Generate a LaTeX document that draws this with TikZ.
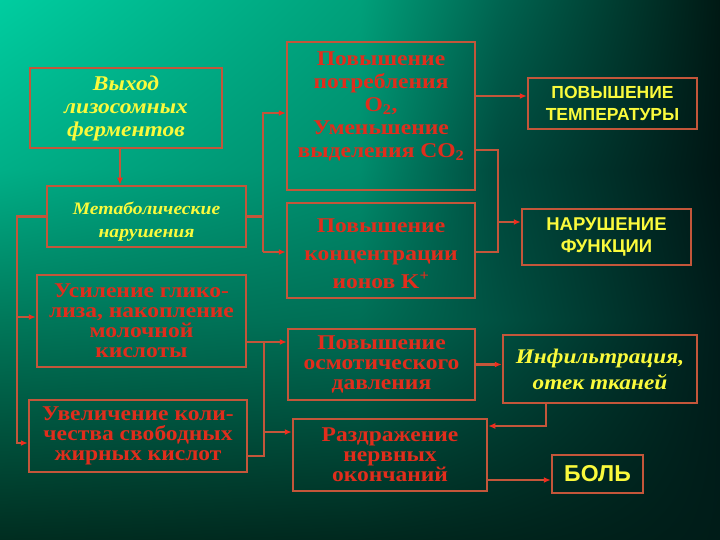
\documentclass[tikz,border=0pt]{standalone}
\usepackage{fontspec}
\usetikzlibrary{arrows.meta,shadings}
\newfontfamily\rserif[FakeStretch=1.12]{Liberation Serif}
\newfontfamily\rsans{Liberation Sans}
% background grid colours (row: y=0,170,320,540; column: x=0,360,500,720)
\definecolor{c00}{RGB}{0,205,160}\definecolor{c01}{RGB}{0,160,122}\definecolor{c02}{RGB}{0,100,80}\definecolor{c03}{RGB}{0,25,20}
\definecolor{c10}{RGB}{0,175,135}\definecolor{c11}{RGB}{0,140,108}\definecolor{c12}{RGB}{0,72,60}\definecolor{c13}{RGB}{0,22,20}
\definecolor{c20}{RGB}{0,120,90}\definecolor{c21}{RGB}{0,110,85}\definecolor{c22}{RGB}{0,80,65}\definecolor{c23}{RGB}{0,28,26}
\definecolor{c30}{RGB}{0,45,32}\definecolor{c31}{RGB}{0,40,30}\definecolor{c32}{RGB}{0,36,28}\definecolor{c33}{RGB}{0,28,24}
\definecolor{bord}{RGB}{196,86,58}
\definecolor{tipc}{RGB}{240,45,30}
\definecolor{redt}{RGB}{225,45,28}
\definecolor{yelt}{RGB}{250,250,60}
\tikzset{
  box/.style={draw=bord, line width=2.5pt, inner sep=0pt, align=center},
  conn/.style={draw=bord, line width=2.5pt},
  arr/.style={-{Latex[length=7pt,width=6pt,color=tipc]}},
  redtxt/.style={text=redt, font=\rserif\bfseries\fontsize{21}{20}\selectfont},
  yital/.style={text=yelt, font=\rserif\bfseries\itshape\fontsize{21}{23}\selectfont},
  ysans/.style={text=yelt, font=\rsans\bfseries\fontsize{17.5}{22}\selectfont}
}
\newcommand\bgpatch[8]{\shade[upper left=#5, upper right=#6, lower left=#7, lower right=#8] (#1,#2) rectangle (#3,#4);}
\begin{document}
\begin{tikzpicture}[x=1pt,y=-1pt]
\useasboundingbox (0,0) rectangle (720,540);
\bgpatch{0}{0}{360.5}{170.5}{c00}{c01}{c10}{c11}
\bgpatch{360}{0}{500.5}{170.5}{c01}{c02}{c11}{c12}
\bgpatch{500}{0}{720}{170.5}{c02}{c03}{c12}{c13}
\bgpatch{0}{170}{360.5}{320.5}{c10}{c11}{c20}{c21}
\bgpatch{360}{170}{500.5}{320.5}{c11}{c12}{c21}{c22}
\bgpatch{500}{170}{720}{320.5}{c12}{c13}{c22}{c23}
\bgpatch{0}{320}{360.5}{540}{c20}{c21}{c30}{c31}
\bgpatch{360}{320}{500.5}{540}{c21}{c22}{c31}{c32}
\bgpatch{500}{320}{720}{540}{c22}{c23}{c32}{c33}

% left column
\node[box, yital, minimum width=192pt, minimum height=80pt] (b1) at (126,108) {Выход\\лизосомных\\ферментов};
\node[box, minimum width=199pt, minimum height=61pt,
  label={[yital, font=\rserif\bfseries\itshape\fontsize{17.5}{23}\selectfont, align=center, yshift=-5pt]center:Метаболические\\нарушения}] (b2) at (146.5,216.5) {};
\node[box, redtxt, minimum width=209pt, minimum height=92pt] (b3) at (141.5,321) {Усиление глико-\\лиза, накопление\\молочной\\кислоты};
\node[box, redtxt, minimum width=218pt, minimum height=72pt] (b4) at (138,436) {Увеличение коли-\\чества свободных\\жирных кислот};

% middle column
\node[box, redtxt, font=\rserif\bfseries\fontsize{21}{23}\selectfont, minimum width=188pt, minimum height=148pt] (b5) at (381,116) {Повышение\\потребления\\O\textsubscript{2},\\Уменьшение\\выделения CO\textsubscript{2}\\[0pt]\mbox{}};
\node[box, minimum width=188pt, minimum height=95pt,
  label={[redtxt, font=\rserif\bfseries\fontsize{21}{28}\selectfont, align=center, yshift=-3pt]center:Повышение\\концентрации\\ионов K\textsuperscript{+}}] (b6) at (381,250.5) {};
\node[box, redtxt, minimum width=187pt, minimum height=71pt] (b7) at (381.5,364.5) {Повышение\\осмотического\\давления};
\node[box, redtxt, minimum width=194pt, minimum height=72pt] (b8) at (390,455) {Раздражение\\нервных\\окончаний};

% right column
\node[box, ysans, minimum width=169pt, minimum height=51pt] (b9) at (612.5,103.5) {ПОВЫШЕНИЕ\\ТЕМПЕРАТУРЫ};
\node[box, ysans, font=\rsans\bfseries\fontsize{18.5}{22}\selectfont, minimum width=169pt, minimum height=56pt] (b10) at (606.5,237) {НАРУШЕНИЕ\\ФУНКЦИИ};
\node[box, yital, font=\rserif\bfseries\itshape\fontsize{20.8}{26}\selectfont, minimum width=194pt, minimum height=68pt] (b11) at (600,369) {Инфильтрация,\\отек тканей};
\node[box, ysans, font=\rsans\bfseries\fontsize{23}{23}\selectfont, minimum width=91pt, minimum height=38pt] (b12) at (597.5,474) {БОЛЬ};

% helper coordinates
\coordinate (x120) at (120,0);
\coordinate (lbus) at (17,443);
\coordinate (lmid) at (17,317);
\coordinate (m1) at (263,113);
\coordinate (m2) at (263,252);
\coordinate (n1) at (264,342);
\coordinate (n2) at (264,456);
\coordinate (n3) at (264,432);
\coordinate (r1) at (475,96);
\coordinate (q1) at (498,150);
\coordinate (q2) at (498,252);
\coordinate (q3) at (498,222);
\coordinate (s1) at (546,426);
\coordinate (t1) at (487,480);

% connectors
\draw[conn, arr] (b1.south -| x120) -- (b2.north -| x120);
\draw[conn, arr] (b2.west) -| (lbus) -- (lbus -| b4.west);
\draw[conn, arr] (lmid) -- (lmid -| b3.west);
\draw[conn] (b2.east) -- (b2.east -| m1);
\draw[conn, arr] (m2) -- (m1) -- (m1 -| b5.west);
\draw[conn, arr] (m2) -- (m2 -| b6.west);
\draw[conn, arr] (b3.east |- n1) -- (b7.west |- n1);
\draw[conn] (n1) -- (n2) -- (b4.east |- n2);
\draw[conn, arr] (n3) -- (n3 -| b8.west);
\draw[conn, arr] (b5.east |- r1) -- (r1 -| b9.west);
\draw[conn] (b5.east |- q1) -- (q1) -- (q2) -- (b6.east |- q2);
\draw[conn, arr] (q3) -- (q3 -| b10.west);
\draw[conn, arr] (b7.east) -- (b7.east -| b11.west);
\draw[conn, arr] (b11.south -| s1) -- (s1) -- (s1 -| b8.east);
\draw[conn, arr] (b8.east |- t1) -- (t1 -| b12.west);
\end{tikzpicture}
\end{document}
